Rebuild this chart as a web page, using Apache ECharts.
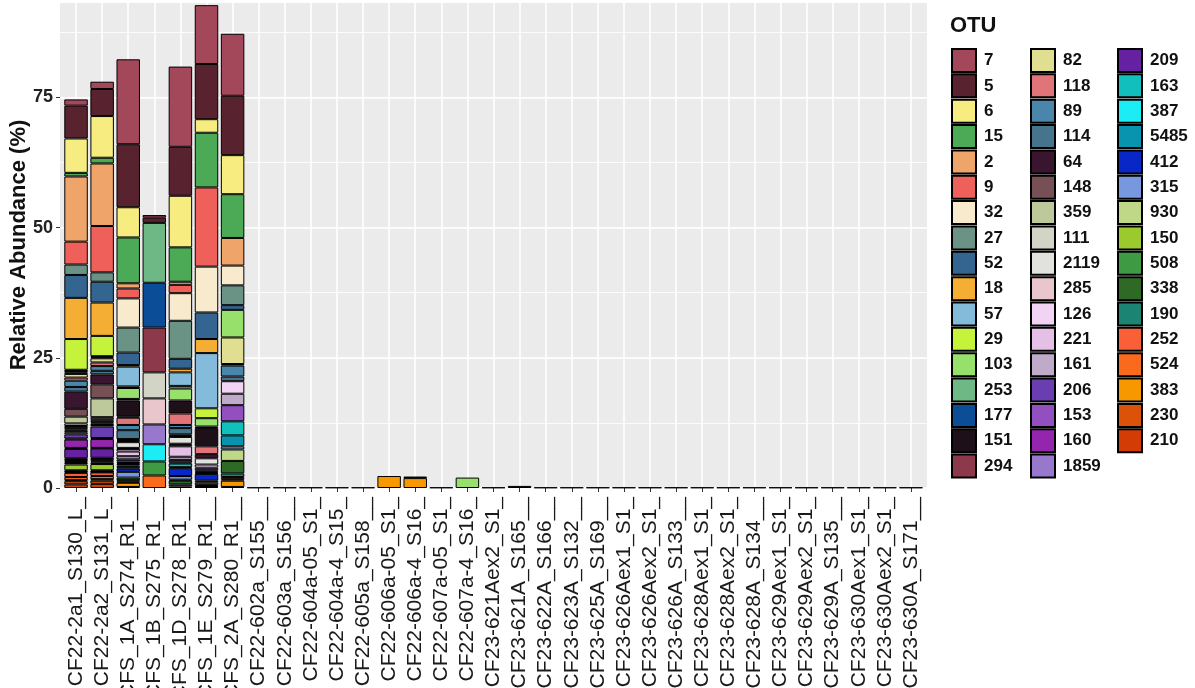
<!DOCTYPE html>
<html>
<head>
<meta charset="utf-8">
<script src="https://cdn.jsdelivr.net/npm/echarts@6/dist/echarts.min.js"></script>
<style>
  html, body { margin: 0; padding: 0; background: #fff; }
  #chart { width: 1195px; height: 688px; }
</style>
</head>
<body>
<div id="chart"></div>
<script>
// sample names (as printed on the axis)
var samples = [
  'CF22-2a1_S130_L_', 'CF22-2a2_S131_L_', 'CFS_1A_S274_R1__', 'CFS_1B_S275_R1__',
  'CFS_1D_S278_R1__', 'CFS_1E_S279_R1__', 'CFS_2A_S280_R1__', 'CF22-602a_S155__',
  'CF22-603a_S156__', 'CF22-604a-05_S1_', 'CF22-604a-4_S15_', 'CF22-605a_S158__',
  'CF22-606a-05_S1_', 'CF22-606a-4_S16_', 'CF22-607a-05_S1_', 'CF22-607a-4_S16_',
  'CF23-621Aex2_S1_', 'CF23-621A_S165__', 'CF23-622A_S166__', 'CF23-623A_S132__',
  'CF23-625A_S169__', 'CF23-626Aex1_S1_', 'CF23-626Aex2_S1_', 'CF23-626A_S133__',
  'CF23-628Aex1_S1_', 'CF23-628Aex2_S1_', 'CF23-628A_S134__', 'CF23-629Aex1_S1_',
  'CF23-629Aex2_S1_', 'CF23-629A_S135__', 'CF23-630Aex1_S1_', 'CF23-630Aex2_S1_',
  'CF23-630A_S171__'
];

// OTUs, legend order = top of stack first
var otus = ['7', '5', '6', '15', '2', '9', '32', '27', '52', '18', '57', '29', '103', '253', '177', '151', '294',
  '82', '118', '89', '114', '64', '148', '359', '111', '2119', '285', '126', '221', '161', '206', '153', '160', '1859',
  '209', '163', '387', '5485', '412', '315', '930', '150', '508', '338', '190', '252', '524', '383', '230', '210'];

var otuColors = ['#A3485A', '#58222E', '#F7EC7F', '#4CAA56', '#EFA56A', '#F0605A', '#F8EACC', '#6A9385', '#346591',
  '#F4AE34', '#84BBDA', '#C5F23A', '#97E06C', '#6DB884', '#0C4D98', '#1E1019', '#8C3A4B',
  '#E0DE90', '#E17479', '#4A86AB', '#45748C', '#3A1530', '#765054', '#BDC99A', '#D2D4C5', '#E1E1DD', '#E9C6CB',
  '#F1D4F4', '#E6BFE6', '#BFAAC9', '#6A3DB0', '#914FBF', '#9426AE', '#9878CC',
  '#6621A3', '#11BFBD', '#1CEDF5', '#0894AE', '#0827C6', '#7798DE', '#BED888', '#9BC92E', '#3E9B43', '#2E6A25',
  '#1C8472', '#F96038', '#FA6A1C', '#F79800', '#DA5308', '#D33C04'];

// relative abundance (%) per sample, in the otus order above
var cf22_2a1 = [1.2, 6.3, 6.6, 0.7, 12.5, 4.4, 0, 2.0, 4.4, 7.9, 0, 5.9, 0.2, 0, 0.1, 0.2, 0.3,
  0.7, 0.6, 1.2, 0.9, 3.3, 1.5, 1.3, 0.5, 0.4, 0.3, 0.2, 0.3, 0.4, 0.8, 0.2, 1.6, 0.2,
  1.8, 0.2, 0.1, 0.2, 0.2, 0.2, 0.3, 1.1, 0.2, 0.1, 0.2, 0.8, 0.6, 0.2, 0.6, 0.7];
var cf22_2a2 = [1.4, 5.2, 8.0, 1.1, 12.0, 8.9, 0, 1.8, 4.0, 6.4, 0, 3.9, 0.2, 0, 0, 0, 0.2,
  0.8, 0.7, 0.9, 0.7, 1.9, 2.7, 3.6, 0.4, 0.3, 0.3, 0.2, 0.3, 0.3, 2.2, 0.2, 1.7, 0.1,
  1.8, 0.2, 0.1, 0.2, 0.2, 0.2, 0.3, 1.2, 0.2, 0.1, 0.1, 0.7, 0.6, 0.3, 0.6, 0.8];
var cfs_1a = [16.3, 12.1, 5.8, 8.8, 1.0, 1.9, 5.6, 4.8, 2.4, 0.3, 3.8, 0.3, 2.1, 0, 0.3, 3.1, 0.2,
  0, 1.4, 1.0, 1.7, 0.2, 0.2, 0, 0.2, 1.1, 0.2, 0.5, 0.9, 0.6, 0.4, 0.3, 0.2, 0,
  0.3, 0.3, 0, 0.3, 0.6, 1.1, 0, 0, 0, 0.5, 0.3, 0.2, 0, 0.8, 0.2, 0];
var cfs_1b = [0.5, 1.0, 0, 0, 0, 0, 0, 0, 0, 0, 0, 0, 0, 11.5, 8.6, 0, 8.6,
  0, 0, 0, 0, 0, 0, 0, 5.0, 0, 5.0, 0, 0, 0, 0, 0, 0, 3.8,
  0, 0, 3.3, 0, 0, 0, 0, 0, 2.7, 0, 0, 0, 2.4, 0, 0, 0];
var cfs_1d = [15.4, 9.4, 9.9, 6.6, 0.6, 1.6, 5.3, 7.3, 1.9, 0.7, 2.6, 0.5, 2.3, 0, 0, 2.5, 0,
  0, 2.2, 0.6, 1.2, 0.3, 0.2, 0, 0, 1.3, 0.2, 0.3, 2.0, 0.6, 0.5, 0.2, 0, 0,
  0, 0.7, 0, 0.2, 1.5, 0.7, 0, 0, 0.2, 0.7, 0.4, 0, 0, 0.3, 0, 0];
var cfs_1e = [11.3, 10.6, 2.6, 10.5, 0, 15.2, 8.8, 0, 5.1, 2.7, 10.6, 1.9, 1.6, 0, 0.3, 3.5, 0,
  0, 1.5, 0, 0, 0.8, 0, 0, 0, 1.2, 0, 0.6, 0, 0, 0.5, 0.3, 0, 0,
  0, 0.2, 0, 0.2, 1.3, 0.3, 0, 0, 0, 0.5, 0.2, 0.2, 0, 0.2, 0, 0];
var cfs_2a = [11.9, 11.4, 7.5, 8.4, 5.3, 0, 3.8, 3.8, 0.9, 0, 0, 0, 5.3, 0, 0, 0, 0,
  5.1, 0.3, 2.1, 0.9, 0, 0, 0, 0, 0, 0, 2.4, 0, 2.2, 0, 3.1, 0, 0,
  0, 2.7, 0, 2.1, 0, 0.6, 2.2, 0, 0, 2.4, 0.7, 0.4, 0.3, 1.2, 0, 0.2];
var mainRows = [cf22_2a1, cf22_2a2, cfs_1a, cfs_1b, cfs_1d, cfs_1e, cfs_2a];

// the remaining samples hold only traces
var minorSampleIdx = [7, 8, 9, 10, 11, 12, 13, 13, 14, 15, 16, 17, 18, 19, 20, 21, 22, 23, 24, 25, 26, 27, 28, 29, 30, 31, 32];
var minorOtu = ['151', '151', '151', '151', '151', '383', '383', '151', '151', '103', '151', '151', '151', '151',
  '151', '151', '151', '151', '151', '151', '151', '151', '151', '151', '151', '151', '151'];
var minorValue = [0.1, 0.1, 0.1, 0.1, 0.1, 2.3, 1.9, 0.3, 0.1, 2.0, 0.1, 0.4, 0.1, 0.1,
  0.1, 0.1, 0.1, 0.1, 0.1, 0.1, 0.1, 0.1, 0.1, 0.1, 0.1, 0.1, 0.1];

var yTicks = [0, 25, 50, 75];
var yMax = 93.3;

var font = '"Liberation Sans", Arial, Helvetica, sans-serif';

/*build one series per OTU; ECharts stacks from the first series up, so go bottom-first*/
var series = [];
for (var j = otus.length - 1; j >= 0; j--) {
  var vals = [];
  for (var i = 0; i < samples.length; i++) {
    var v = i < mainRows.length ? mainRows[i][j] : 0;
    for (var k = 0; k < minorSampleIdx.length; k++) {
      if (minorSampleIdx[k] === i && minorOtu[k] === otus[j]) v += minorValue[k];
    }
    vals.push(v > 0 ? v : null);
  }
  series.push({
    name: otus[j],
    type: 'bar',
    stack: 'otu',
    xAxisIndex: 1,
    yAxisIndex: 2,
    barWidth: '90%',
    data: vals,
    itemStyle: { color: otuColors[j], borderColor: '#000', borderWidth: 1 },
    emphasis: { disabled: true }
  });
}

function legendCol(left, names) {
  return {
    orient: 'vertical',
    left: left,
    top: 48,
    padding: 0,
    itemWidth: 24,
    itemHeight: 23,
    itemGap: 0.35,
    icon: 'rect',
    selectedMode: false,
    data: names,
    textStyle: {
      fontFamily: font, fontSize: 17, fontWeight: 'bold', color: '#111',
      lineHeight: 20, padding: [0, 0, 0, 3]
    }
  };
}

var chart = echarts.init(document.getElementById('chart'), null, { renderer: 'canvas' });
chart.setOption({
  animation: false,
  backgroundColor: '#fff',
  title: {
    text: 'OTU',
    left: 950,
    top: 15,
    padding: 0,
    textStyle: { fontFamily: font, fontSize: 22, fontWeight: 'bold', color: '#111' }
  },
  legend: [
    legendCol(951, otus.slice(0, 17)),
    legendCol(1030, otus.slice(17, 34)),
    legendCol(1117, otus.slice(34))
  ],
  // grid 0 = whole panel (background + horizontal lines), grid 1 = bar bands (ggplot adds 0.6 band at each side)
  grid: [{
    left: 60, right: 268, top: 2, bottom: 200,
    outerBoundsMode: 'none', containLabel: false,
    show: true, backgroundColor: '#EBEBEB', borderWidth: 0
  }, {
    left: 63, right: 271, top: 2, bottom: 200,
    outerBoundsMode: 'none', containLabel: false,
    show: false
  }],
  xAxis: [{
    type: 'value',
    gridIndex: 0,
    min: 0,
    max: 1,
    show: false
  }, {
    type: 'category',
    gridIndex: 1,
    data: samples,
    axisLine: { show: false },
    axisTick: { show: true, alignWithLabel: true, length: 4, lineStyle: { color: '#333', width: 1 } },
    axisLabel: { interval: 0, rotate: 90, margin: 9, fontFamily: font, fontSize: 21, color: '#1a1a1a' },
    splitLine: { show: true, alignWithLabel: true, lineStyle: { color: '#fff', width: 1.6 } }
  }],
  yAxis: [{
    type: 'value',
    gridIndex: 0,
    min: 0,
    max: yMax,
    interval: 25,
    name: 'Relative Abundance (%)',
    nameLocation: 'middle',
    nameGap: 30,
    nameMoveOverlap: false,
    nameTextStyle: { fontFamily: font, fontSize: 22, fontWeight: 'bold', color: '#111' },
    axisLine: { show: false },
    axisTick: { show: true, length: 4, lineStyle: { color: '#333', width: 1 } },
    axisLabel: {
      margin: 7, fontFamily: font, fontSize: 18, fontWeight: 'bold', color: '#222', showMaxLabel: false,
      formatter: function (v) { return yTicks.indexOf(v) >= 0 ? String(v) : ''; }
    },
    splitLine: { show: true, lineStyle: { color: '#fff', width: 1.6 } }
  }, {
    type: 'value',
    gridIndex: 0,
    min: 0,
    max: yMax,
    interval: 12.5,
    axisLine: { show: false },
    axisTick: { show: false },
    axisLabel: { show: false },
    splitLine: { show: true, lineStyle: { color: '#fff', width: 0.8 } }
  }, {
    type: 'value',
    gridIndex: 1,
    min: 0,
    max: yMax,
    show: false,
    splitLine: { show: false }
  }],
  series: series
});
</script>
</body>
</html>
